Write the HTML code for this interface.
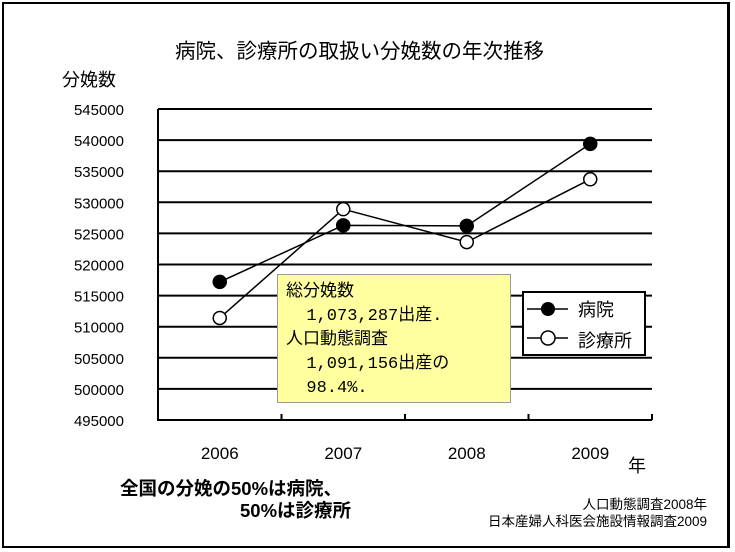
<!DOCTYPE html>
<html><head><meta charset="utf-8"><style>
body{margin:0;background:#fff;}
#wrap{position:relative;width:735px;height:552px;overflow:hidden;background:#fff;font-family:"Liberation Sans","Noto Sans CJK JP",sans-serif;}
#frame{position:absolute;left:2px;top:2px;width:723px;height:542px;border:2px solid #000;border-right-width:3px;}
.t{position:absolute;white-space:nowrap;color:#000;}
</style></head><body>
<div id="wrap">
<div id="frame"></div>
<div class="t" style="left:175px;top:34px;font-size:20.5px;">病院、診療所の取扱い分娩数の年次推移</div>
<div class="t" style="left:62px;top:66px;font-size:18px;">分娩数</div>
<div class="t" style="left:628px;top:452px;font-size:18px;">年</div>
<svg id="chart" width="735" height="552" style="position:absolute;left:0;top:0;"></svg>
<div style="position:absolute;left:277px;top:274px;width:234px;height:129px;background:#ffff9f;border:1px solid #999;font-family:'Liberation Mono','Noto Sans CJK JP',monospace;font-size:17px;line-height:24px;padding:6px 0 0 8px;box-sizing:border-box;">総分娩数<br>&nbsp;&nbsp;1,073,287出産.<br>人口動態調査<br>&nbsp;&nbsp;1,091,156出産の<br>&nbsp;&nbsp;98.4%.</div>
<div style="position:absolute;left:522px;top:291px;width:124px;height:65px;background:#fff;border:2px solid #000;box-sizing:border-box;">
<svg width="124" height="65" style="position:absolute;left:-2px;top:-2px;">
<line x1="5" y1="18" x2="46" y2="18" stroke="#000" stroke-width="1.5"/><circle cx="26" cy="18" r="7" fill="#000"/>
<line x1="5" y1="47" x2="46" y2="47" stroke="#000" stroke-width="1.5"/><circle cx="26" cy="47" r="7" fill="#fff" stroke="#000" stroke-width="1.5"/>
</svg>
<div class="t" style="left:54px;top:3px;font-size:18px;">病院</div>
<div class="t" style="left:54px;top:34px;font-size:18px;">診療所</div>
</div>
<div class="t" style="left:120px;top:478px;font-size:18.5px;font-weight:bold;line-height:22px;">全国の分娩の50%は病院、<br><span style="padding-left:120px">50%は診療所</span></div>
<div class="t" style="right:28px;top:496px;font-size:13.5px;line-height:17px;text-align:right;">人口動態調査2008年<br>日本産婦人科医会施設情報調査2009</div>
</div>
<script>
const categories=["2006","2007","2008","2009"];
const hospital=[517200,526300,526200,539400];
const clinic=[511400,528900,523600,533700];
const yTicks=[495000,500000,505000,510000,515000,520000,525000,530000,535000,540000,545000];
const NS="http://www.w3.org/2000/svg";
const svg=document.getElementById('chart');
const L=158,R=652,T=109,B=420,yMin=495000,yMax=545000;
const band=(R-L)/categories.length;
const xs=i=>L+band*(i+0.5);
const ys=v=>B-(v-yMin)/(yMax-yMin)*(B-T);
function mk(tag,attrs){const e=document.createElementNS(NS,tag);for(const k in attrs)e.setAttribute(k,attrs[k]);svg.appendChild(e);return e;}
yTicks.forEach(v=>{
  const g=mk('line',{x1:L,x2:R,y1:ys(v),y2:ys(v),stroke:'#000','stroke-width':2});
  
  
  const t=mk('text',{x:124,y:ys(v)+6,'text-anchor':'end','font-size':15,'font-family':'Liberation Sans, sans-serif'});
  t.textContent=v;
  
  
});
const ax=mk('line',{x1:L,x2:L,y1:T,y2:B+1,stroke:'#000','stroke-width':2});


for(let i=1;i<=categories.length;i++){
  const tk=mk('line',{x1:L+band*i,x2:L+band*i,y1:B-6,y2:B,stroke:'#000','stroke-width':2});
  
  
}
categories.forEach((c,i)=>{
  const t=mk('text',{x:xs(i),y:459,'text-anchor':'middle','font-size':17,'font-family':'Liberation Sans, sans-serif'});
  t.textContent=c;
  
  
});
function series(vals,fill,name){
  const pl=mk('polyline',{points:vals.map((v,i)=>xs(i)+','+ys(v)).join(' '),fill:'none',stroke:'#000','stroke-width':1.5});
  
  
  vals.forEach((v,i)=>{
    const c=mk('circle',{cx:xs(i),cy:ys(v),r:6.5,fill:fill,stroke:'#000','stroke-width':1.5});
    
    
  });
}
series(clinic,'#fff','clinic');
series(hospital,'#000','hospital');
</script>
</body></html>
